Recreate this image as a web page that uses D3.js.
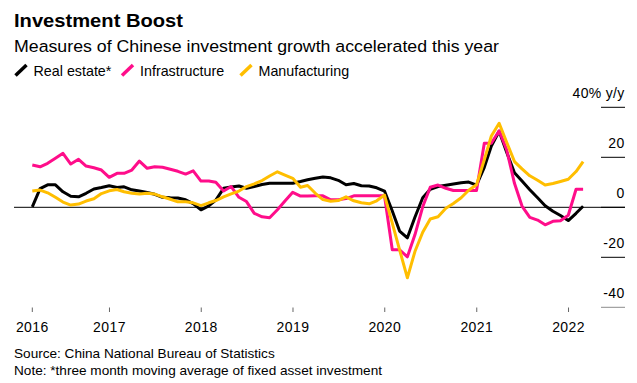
<!DOCTYPE html>
<html><head><meta charset="utf-8">
<script src="https://cdn.jsdelivr.net/npm/d3@7"></script>
<style>
body{margin:0;background:#fff;}
text{font-family:"Liberation Sans",Arial,Helvetica,sans-serif;}
</style>
</head><body>
<svg id="chart" width="637" height="383"></svg>
<script>
// ---- data (monthly, month-end, Feb 2016 .. Feb 2022) ----
const firstMonth = {year: 2016, month: 2}; // February 2016
const monthCount = 73;
const realEstate = [0.2,7.5,9,9,6.2,4.4,4.2,5.6,7.3,7.9,8.6,7.9,8.2,7,6.5,5.9,5.2,4,3.8,3.7,3,1.5,-1,0.6,2.9,7.6,8.1,8.5,7.6,8.3,9.1,9.6,9.6,9.6,9.6,10.3,11,11.6,12.1,11.8,10.8,9,9.5,8.6,8.5,7.8,6.5,-1.5,-9.5,-12.2,-4,3.8,7.2,8.3,8.8,9.3,9.8,10.1,8.9,16,24.5,30.4,22,13.8,10.5,7,3.8,0.6,-1.6,-3.3,-5.3,-2.4,0.4];
const infrastructure = [16.9,16.2,17.6,19.6,21.6,17.3,19.2,16.5,15.8,14.9,12,13.6,13.6,14.9,18.5,15.6,16.2,16,15.2,14.4,13.3,14.6,10.5,10.5,10,6.5,8.3,4,2.3,-2.4,-3.8,-4.2,-1,2.5,6,4.5,4.5,4.6,4.6,3,3,3.5,4.6,4.6,4.6,4.6,4.6,-17,-17,-19.8,-11,0.2,8,8.9,7.6,6.7,6.7,6.7,6.7,25.6,25.6,30.6,23,9.6,0.5,-4,-5.1,-7,-5.6,-5.4,-3.2,7.2,7.2];
const manufacturing = [6.5,6.9,5.8,4,2.1,0.9,1.3,2.5,3.4,5.5,6.6,7.1,6.2,5.6,5.3,5.6,5.3,4.2,3.2,2.2,2.2,1.8,0.7,1.8,2.7,4.2,5.4,6.5,8.3,9.4,10.7,12.5,14.2,12.9,11.6,8,8.7,5.6,3.1,2.4,2.7,4.2,2.6,1.8,1.4,2.6,4.9,-6.3,-17,-28.2,-17.7,-10,-4.7,-3.8,-0.4,1.5,3.8,6.8,9,19,28.5,33.6,26,18.3,15.4,12.6,10.8,8.9,9.5,10.3,11.2,14.3,18.3];
const seriesNames = ["Real estate*","Infrastructure","Manufacturing"];
const seriesColors = ["#000000","#ff0d8a","#ffbe00"];
const yTickValues = [40,20,0,-20,-40];
const xTickYears = [2016,2017,2018,2019,2020,2021,2022];

// ---- layout ----
const svg = d3.select("#chart");
const dates = d3.range(monthCount).map(i => new Date(firstMonth.year, firstMonth.month + i, 0));
const x = d3.scaleTime().domain([dates[0], dates[dates.length-1]]).range([32.3, 583.1]);
const y = d3.scaleLinear().domain([-40, 40]).range([307.3, 107.3]);

// title
svg.append("text").attr("x",14).attr("y",27).attr("font-size",18).attr("font-weight","bold")
  .attr("textLength",169).attr("lengthAdjust","spacingAndGlyphs").text("Investment Boost");
svg.append("text").attr("x",14).attr("y",52).attr("font-size",16.3)
  .attr("textLength",485).attr("lengthAdjust","spacingAndGlyphs")
  .text("Measures of Chinese investment growth accelerated this year");

// legend
const legendX = [15, 121.5, 240];
seriesNames.forEach((n,i)=>{
  const g = svg.append("g").attr("transform",`translate(${legendX[i]},0)`);
  g.append("line").attr("x1",0.5).attr("y1",75.5).attr("x2",11.5).attr("y2",65)
    .attr("stroke",seriesColors[i]).attr("stroke-width",3.5);
  g.append("text").attr("x",18.5).attr("y",75.5).attr("font-size",14.3).text(n);
});

// y axis on right
const yAxis = svg.append("g");
yTickValues.forEach(v=>{
  yAxis.append("line").attr("x1",601).attr("x2",625).attr("y1",y(v)).attr("y2",y(v))
    .attr("stroke", v === -40 ? "#8c8c8c" : "#000").attr("stroke-width",1);
  yAxis.append("text").attr("x",624.5).attr("y",y(v)-9).attr("text-anchor","end")
    .attr("font-size",14).attr("letter-spacing",0.3).text(v === 40 ? "40% y/y" : String(v));
});

// zero line
svg.append("line").attr("x1",14).attr("x2",625).attr("y1",y(0)).attr("y2",y(0))
  .attr("stroke","#000").attr("stroke-width",1);

// x ticks
const xTickDates = xTickYears.map((yr,i)=> i===0 ? dates[0] : new Date(yr,0,1));
xTickDates.forEach((d,i)=>{
  svg.append("line").attr("x1",x(d)).attr("x2",x(d)).attr("y1",307.5).attr("y2",312)
    .attr("stroke","#666").attr("stroke-width",1);
  svg.append("text").attr("x",x(d)).attr("y",331.5).attr("text-anchor","middle")
    .attr("font-size",14).attr("letter-spacing",0.4).text(xTickYears[i]);
});

// lines
const line = d3.line().x((d,i)=>x(dates[i])).y(d=>y(d)).curve(d3.curveLinear);
[realEstate, infrastructure, manufacturing].forEach((s,i)=>{
  svg.append("path").datum(s).attr("d",line).attr("fill","none")
    .attr("stroke",seriesColors[i]).attr("stroke-width",3)
    .attr("stroke-linejoin","round").attr("stroke-linecap","butt");
});

// footer
svg.append("text").attr("x",14).attr("y",358).attr("font-size",13.6).text("Source: China National Bureau of Statistics");
svg.append("text").attr("x",14).attr("y",374.5).attr("font-size",13.6).text("Note: *three month moving average of fixed asset investment");
</script>
</body></html>
